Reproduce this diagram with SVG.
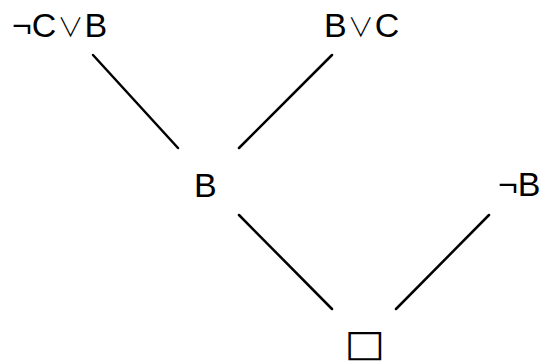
<svg xmlns="http://www.w3.org/2000/svg" width="541" height="361" viewBox="0 0 541 361">
<style>
text { font-family: "Liberation Sans", "DejaVu Sans", sans-serif; font-size: 34px; fill: #000; }
.op { font-family: "Noto Sans CJK SC", "DejaVu Sans", sans-serif; font-size: 26px; font-weight: 300; }
.box { font-family: "DejaVu Sans", sans-serif; font-size: 41px; }
line { stroke: #000; stroke-width: 2.5; stroke-linecap: round; }
</style>
<rect width="541" height="361" fill="#fff"/>
<g id="connectors">
<line x1="93" y1="55" x2="178" y2="148"/>
<line x1="332" y1="55" x2="239" y2="148"/>
<line x1="239" y1="215" x2="332" y2="309"/>
<line x1="489" y1="215" x2="396" y2="309"/>
</g>
<g id="n1"><text x="12" y="37">¬C<tspan class="op" dx="1">∨</tspan><tspan dx="1">B</tspan></text></g>
<g id="n2"><text x="324" y="37">B<tspan class="op" dx="1">∨</tspan><tspan dx="1">C</tspan></text></g>
<g id="n3"><text x="194" y="197">B</text></g>
<g id="n4"><text x="498" y="196">¬B</text></g>
<g id="n5"><text class="box" x="0" y="0" text-anchor="middle" transform="translate(365 356) scale(1.05 0.9)">□</text></g>
</svg>
